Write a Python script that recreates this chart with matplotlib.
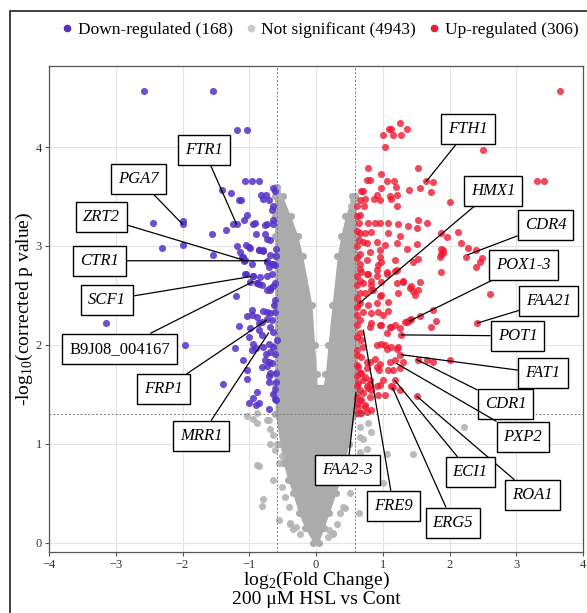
import matplotlib
matplotlib.use("Agg")
import matplotlib.pyplot as plt
from matplotlib.lines import Line2D
from matplotlib.patches import Rectangle

plt.rcParams['font.family'] = ['Liberation Serif', 'DejaVu Serif']
plt.rcParams['mathtext.fontset'] = 'custom'
plt.rcParams['mathtext.rm'] = 'Liberation Serif'

# ---------------- data ----------------
legend_labels = ["Down-regulated (168)", "Not significant (4943)", "Up-regulated (306)"]
fc_threshold = 0.585
p_threshold = 1.30

blue_x = [-2.57, -1.55, -1.19, -1.04,
          -1.06, -0.96, -0.85, -1.41, -1.27, -1.16, -1.13,
          -0.83, -0.75, -0.64, -0.61, -0.80, -0.71, -0.65, -0.66,
          -1.04, -1.08, -0.94, -0.91, -0.77, -0.74, -0.65, -0.64,
          -1.25, -1.19, -1.35, -1.56, -1.99, -2.00, -1.99,
          -0.90, -0.76, -0.74, -0.69, -1.05, -1.00, -0.85, -0.80,
          -2.44, -2.31, -1.55, -1.19, -1.14, -1.10, -1.06, -1.05, -1.20,
          -0.94, -0.89, -0.85, -0.74, -0.64, -0.69, -0.65,
          -0.99, -1.11, -1.08,
          -0.86, -0.79, -0.69, -0.60, -0.60, -0.74, -0.66, -0.61, -0.71, -0.96,
          -1.06, -0.95, -0.84, -0.74, -0.66, -0.99, -0.89, -0.81, -0.74, -0.69, -0.61,
          -0.96, -0.96, -1.03, -0.88, -0.80, -0.74, -0.69, -0.61,
          -0.86, -0.81, -0.74, -0.66, -1.16, -0.99, -0.85, -0.81, -0.69, -0.64, -1.00,
          -3.14, -1.96, -1.22, -0.95, -0.90, -0.79, -0.71, -0.64, -0.59,
          -0.96, -0.75, -0.69, -0.61, -1.10, -0.76, -0.71, -0.81, -0.74, -0.66,
          -1.04, -0.69, -0.60, -0.70, -1.03, -0.71, -0.60, -1.39,
          -0.88, -0.94, -1.01, -0.86, -0.90, -0.71,
          -0.62, -0.63, -0.62, -0.61, -0.64, -0.60]
blue_y = [4.57, 4.57, 4.17, 4.17,
          3.66, 3.66, 3.66, 3.57, 3.54, 3.46, 3.46,
          3.52, 3.52, 3.59, 3.56, 3.47, 3.46, 3.40, 3.36,
          3.31, 3.26, 3.22, 3.23, 3.21, 3.22, 3.26, 3.22,
          3.22, 3.22, 3.16, 3.12, 3.25, 3.22, 3.01,
          3.12, 3.12, 3.07, 3.06, 3.01, 2.99, 2.96, 2.96,
          3.23, 2.98, 2.91, 3.00, 2.94, 2.89, 2.86, 2.72, 2.49,
          2.70, 2.62, 2.61, 2.84, 2.82, 2.55, 2.59,
          2.98, 2.89, 2.85,
          2.96, 2.95, 2.91, 2.97, 2.90, 2.85, 2.82, 2.81, 2.79, 2.82,
          2.72, 2.70, 2.69, 2.70, 2.72, 2.64, 2.63, 2.60, 2.55, 2.57, 2.62,
          2.35, 2.30, 2.29, 2.28, 2.34, 2.33, 2.32, 2.33,
          2.22, 2.23, 2.26, 2.25, 2.19, 2.17, 2.15, 2.10, 2.18, 2.13, 2.08,
          2.22, 2.00, 1.97, 2.01, 1.97, 1.98, 2.01, 1.98, 2.05,
          1.95, 1.91, 1.93, 1.91, 1.85, 1.85, 1.83, 1.78, 1.79, 1.82,
          1.74, 1.71, 1.71, 1.68, 1.65, 1.62, 1.62, 1.60,
          1.52, 1.46, 1.41, 1.41, 1.39, 1.35,
          2.45, 2.40, 1.55, 1.45, 1.50, 1.44]

red_x = [3.65,
         1.10, 1.12, 1.26, 1.36, 1.01, 1.16, 1.27, 1.03,
         2.50, 0.78, 1.53,
         0.76, 0.81, 0.97, 1.07, 1.17, 3.31, 3.41, 1.65, 1.75,
         0.98, 1.20, 1.40, 1.56, 1.72, 0.68, 0.71,
         0.91, 1.11, 1.21,
         0.66, 0.73, 0.87, 0.96, 1.13,
         0.72, 1.21, 2.01, 0.66,
         0.65, 0.78, 0.88, 0.96, 1.08, 1.23, 1.38, 1.51, 1.53, 1.67,
         0.66, 0.73, 0.83, 1.08, 1.26,
         1.88, 1.96, 2.13, 2.17,
         2.28, 2.40, 2.48, 2.46, 2.25, 2.40,
         1.88, 1.91, 1.86,
         0.65, 0.71, 0.91, 1.03, 1.21, 1.36, 1.51,
         0.66, 0.76, 0.96, 1.18, 1.46, 1.53,
         0.66, 0.76, 0.91, 1.07, 1.21,
         0.82, 0.98, 1.21, 1.31, 1.43, 1.53, 1.48,
         2.61, 2.41,
         0.66, 0.83, 0.96, 1.08, 1.23,
         0.76, 0.96, 0.81,
         1.88, 1.91, 1.87,
         0.66, 0.93, 0.98, 0.68, 0.78, 0.66, 0.91, 1.06, 1.18, 1.30, 1.41, 1.46, 1.56,
         0.71, 0.83, 0.73, 0.86, 0.98, 0.66, 0.78, 0.91, 0.71, 0.83, 0.93, 1.08, 1.01,
         0.66, 0.83, 0.98, 1.11, 1.26,
         1.41, 1.36,
         1.28, 1.38, 1.43, 1.76, 1.80, 1.73, 1.56, 1.33,
         1.18, 1.13, 0.96, 0.81, 1.07, 0.98, 0.92, 1.03,
         0.66, 0.68, 0.71, 1.06, 1.13, 1.23,
         1.21, 1.26, 1.18, 1.31, 1.53, 1.66, 1.76, 2.01,
         0.68, 0.76, 0.88, 0.96, 1.11,
         1.08, 1.16, 1.26, 0.91, 0.95, 0.81, 0.76,
         1.01, 1.18, 0.96, 1.13, 1.26, 1.51, 0.81, 0.83, 0.93, 1.03, 1.15,
         0.63, 0.68, 0.71, 0.63, 0.76, 0.71, 0.61, 0.66, 0.73, 0.63, 0.76, 0.68, 0.61,
         0.66, 0.73, 0.81, 0.66, 0.78, 0.91, 0.68, 0.81, 0.73, 0.83, 0.66,
         0.62, 0.62, 0.62, 0.62, 0.62, 0.62, 0.62, 0.62, 0.62,
         0.62, 0.62, 0.62, 0.62, 0.62, 0.62, 0.62, 0.62, 0.62]
red_y = [4.57,
         4.18, 4.18, 4.24, 4.18, 4.12, 4.12, 4.12, 4.00,
         3.97, 3.79, 3.79,
         3.67, 3.67, 3.73, 3.66, 3.66, 3.66, 3.66, 3.66, 3.65,
         3.59, 3.60, 3.57, 3.59, 3.55, 3.56, 3.56,
         3.52, 3.50, 3.52,
         3.46, 3.47, 3.47, 3.46, 3.47,
         3.40, 3.40, 3.44, 3.31,
         3.23, 3.23, 3.23, 3.23, 3.23, 3.22, 3.20, 3.18, 3.26, 3.23,
         3.13, 3.13, 3.14, 3.13, 3.10,
         3.13, 3.09, 3.14, 3.03,
         2.98, 2.96, 2.88, 2.84, 2.89, 2.79,
         2.97, 2.93, 2.89,
         3.06, 3.04, 3.04, 3.01, 3.03, 2.97, 3.02,
         2.92, 2.86, 2.89, 2.86, 2.84, 2.87,
         2.77, 2.72, 2.76, 2.74, 2.76,
         2.65, 2.64, 2.62, 2.64, 2.59, 2.55, 2.50,
         2.51, 2.22,
         2.52, 2.55, 2.49, 2.43, 2.52,
         3.03, 2.96, 2.94,
         2.92, 2.96, 2.74,
         2.82, 2.81, 2.84, 2.74, 2.72, 2.65, 2.70, 2.72, 2.75, 2.65, 2.57, 2.54, 2.64,
         2.62, 2.60, 2.52, 2.55, 2.50, 2.42, 2.40, 2.42, 2.33, 2.32, 2.33, 2.34, 2.30,
         2.25, 2.22, 2.20, 2.18, 2.17,
         2.25, 2.23,
         2.10, 2.24, 2.26, 2.35, 2.24, 2.18, 2.29, 2.23,
         2.20, 2.18, 2.20, 2.18, 2.12, 2.01, 2.00, 2.00,
         2.12, 2.05, 1.98, 1.96, 1.98, 1.98,
         1.96, 1.90, 1.85, 1.83, 1.85, 1.85, 1.83, 1.85,
         1.88, 1.83, 1.86, 1.81, 1.83,
         1.74, 1.75, 1.77, 1.78, 1.74, 1.83, 1.77,
         1.64, 1.64, 1.59, 1.58, 1.54, 1.48, 1.60, 1.54, 1.49, 1.49, 1.57,
         1.78, 1.71, 1.64, 1.61, 1.58, 1.51, 1.47, 1.44, 1.39, 1.37, 1.32, 1.31, 1.31,
         1.71, 1.67, 1.64, 1.54, 1.56, 1.58, 1.44, 1.47, 1.37, 1.34, 1.31,
         3.40, 3.30, 3.15, 3.00, 2.88, 2.70, 2.60, 2.47, 2.38,
         2.30, 2.20, 2.08, 1.95, 1.90, 1.80, 1.68, 1.58, 1.40]

# scattered non-significant points
grey_x = [-0.86, -0.80, -0.81, -0.94, -0.89,
          -0.71, -0.69, -0.64, -0.69, -0.59, -0.61, -0.51, -0.56, -0.64, -0.51, -0.46, -0.41, -0.39, -0.34, -0.24,
          0.66, 0.78, 0.83, 0.71, 0.76, 0.66, 0.61, 0.56, 0.51, 0.41, 0.36, 0.31, 0.26, 0.18,
          1.46, -0.55, 0.65, -0.39, -0.30, 0.20, 0.25, 0.43,
          -1.04, -0.89, -0.74, -0.89,
          2.21, 0.66, 1.06, 1.01,
          -0.59, -0.55, 0.56, 0.52]
grey_y = [0.77, 0.44, 0.37, 1.25, 1.31,
          1.24, 1.15, 1.09, 1.00, 1.00, 0.94, 0.88, 0.80, 0.63, 0.56, 0.46, 0.36, 0.19, 0.14, 0.09,
          1.17, 1.21, 1.12, 1.05, 0.95, 0.92, 0.80, 0.63, 0.50, 0.36, 0.30, 0.19, 0.09, 0.06,
          0.90, 0.23, 0.30, 0.20, 0.16, 0.13, 0.10, 0.35,
          1.28, 1.21, 1.24, 0.78,
          1.17, 1.07, 0.90, 0.60,
          3.56, 3.50, 3.46, 3.40]

# extent of the dense non-significant cloud (read per height)
core_y = [0.00, 0.15, 0.30, 0.50, 0.63, 0.80, 1.00, 1.30, 1.60]
core_left = [-0.04, -0.17, -0.26, -0.35, -0.42, -0.49, -0.54, -0.61, -0.62]
core_right = [0.04, 0.12, 0.20, 0.30, 0.36, 0.43, 0.49, 0.59, 0.62]
larm_y = [1.50, 1.70, 2.00, 2.40, 2.90, 3.10, 3.30, 3.50, 3.60]
larm_outer = [-0.62, -0.62, -0.62, -0.62, -0.62, -0.62, -0.62, -0.62, -0.60]
larm_inner = [0.02, 0.01, -0.02, -0.06, -0.20, -0.27, -0.38, -0.50, -0.58]
rarm_y = [1.50, 1.70, 2.00, 2.40, 2.90, 3.10, 3.30, 3.50]
rarm_inner = [0.08, 0.14, 0.18, 0.24, 0.32, 0.37, 0.44, 0.54]
rarm_outer = [0.62, 0.62, 0.62, 0.62, 0.62, 0.62, 0.61, 0.59]

# gene labels: name, label centre (x, y), labelled point (x, y), italic
genes = ["FTR1", "PGA7", "ZRT2", "CTR1", "SCF1", "B9J08_004167", "FRP1", "MRR1",
         "FTH1", "HMX1", "CDR4", "POX1-3", "FAA21", "POT1", "FAT1", "CDR1", "PXP2",
         "ROA1", "ECI1", "ERG5", "FRE9", "FAA2-3"]
label_x = [-1.68, -2.66, -3.22, -3.25, -3.13, -2.94, -2.28, -1.72,
           2.28, 2.65, 3.44, 3.11, 3.49, 3.02, 3.40, 2.84, 3.10,
           3.24, 2.31, 2.05, 1.16, 0.47]
label_y = [3.97, 3.68, 3.29, 2.85, 2.45, 1.96, 1.55, 1.08,
           4.18, 3.56, 3.21, 2.81, 2.44, 2.09, 1.71, 1.40, 1.07,
           0.48, 0.71, 0.20, 0.37, 0.73]
point_x = [-1.19, -2.00, -1.10, -0.74, -0.98, -0.94, -0.74, -0.71,
           1.65, 0.65, 2.27, 1.40, 2.42, 1.28, 1.28, 1.51, 1.21,
           1.51, 1.18, 1.15, 0.71, 0.60]
point_y = [3.22, 3.22, 2.86, 2.85, 2.69, 2.64, 2.25, 2.12,
           3.65, 2.42, 2.91, 2.24, 2.22, 2.10, 1.90, 1.85, 1.81,
           1.48, 1.64, 1.56, 2.15, 1.52]
label_italic = [True, True, True, True, True, False, True, True,
                True, True, True, True, True, True, True, True, True,
                True, True, True, True, True]

# ---------------- figure ----------------
W, H = 587, 613
fig = plt.figure(figsize=(W / 100, H / 100), dpi=100)
ax = fig.add_axes([49 / W, 1 - 552 / H, (583 - 49) / W, (552 - 66) / H])

c_blue = '#5530c8'
c_red = '#ee1a33'
c_grey = '#ababab'

ax.set_xlim(-4, 4)
ax.set_ylim(-0.096, 4.82)
ax.set_xticks(range(-4, 5))
ax.set_yticks(range(0, 5))
ax.grid(True, color='#e4e4e4', lw=0.8, zorder=0)
ax.set_axisbelow(True)

# dense grey cloud
ax.fill_betweenx(core_y, core_left, core_right, color=c_grey, lw=0, zorder=1)
ax.fill_betweenx(larm_y, larm_outer, larm_inner, color=c_grey, lw=0, zorder=1)
ax.fill_betweenx(rarm_y, rarm_inner, rarm_outer, color=c_grey, lw=0, zorder=1)
ms = 26
ax.scatter(core_left + core_right + larm_outer + larm_inner + rarm_inner + rarm_outer,
           core_y + core_y + larm_y + larm_y + rarm_y + rarm_y,
           s=ms, color=c_grey, lw=0, zorder=1)
ax.scatter(grey_x, grey_y, s=ms, color='#b4b4b4', lw=0, alpha=0.9, zorder=2)
ax.scatter(blue_x, blue_y, s=ms, color=c_blue, lw=0, alpha=0.85, zorder=3)
ax.scatter(red_x, red_y, s=ms, color=c_red, lw=0, alpha=0.8, zorder=3)

# thresholds
for xv in (-fc_threshold, fc_threshold):
    ax.axvline(xv, color='#7a7a7a', lw=0.7, ls=(0, (2, 2)), zorder=4)
ax.axhline(p_threshold, color='#7a7a7a', lw=0.7, ls=(0, (2, 2)), zorder=4)

# gene labels
for name, lx, ly, px, py, it in zip(genes, label_x, label_y, point_x, point_y, label_italic):
    ax.annotate(name, xy=(px, py), xytext=(lx, ly), ha='center', va='center',
                fontsize=12, fontstyle='italic' if it else 'normal',
                bbox=dict(boxstyle='square,pad=0.42', fc='white', ec='black', lw=1.0),
                arrowprops=dict(arrowstyle='-', color='black', lw=0.9,
                                shrinkA=0, shrinkB=0),
                zorder=6)

for s in ax.spines.values():
    s.set_color('#555555')
    s.set_linewidth(0.9)
ax.tick_params(labelsize=9, colors='#555555', labelcolor='#333333', length=3, width=0.8,
               pad=2)

ax.set_xlabel('log$_2$(Fold Change)\n200 \u03bcM HSL vs Cont', fontsize=14,
              linespacing=1.0, labelpad=-1)
ax.set_ylabel('-log$_{10}$(corrected p value)', fontsize=14, labelpad=0.5)

handles = [Line2D([], [], marker='o', ls='', ms=5.5, color=c, mec='none')
           for c in (c_blue, '#c8c8c8', c_red)]
fig.legend(handles, legend_labels, loc='center', bbox_to_anchor=(0.543, 0.951),
           ncol=3, frameon=False, fontsize=12.5, handletextpad=0.15,
           columnspacing=0.6, handlelength=0.9)

fig.patches.append(Rectangle((10 / W, -0.1), 1.2, 1.1 - 11 / H, transform=fig.transFigure,
                             fill=False, ec='#333333', lw=1.3))

fig.savefig('out.png', dpi=100)
